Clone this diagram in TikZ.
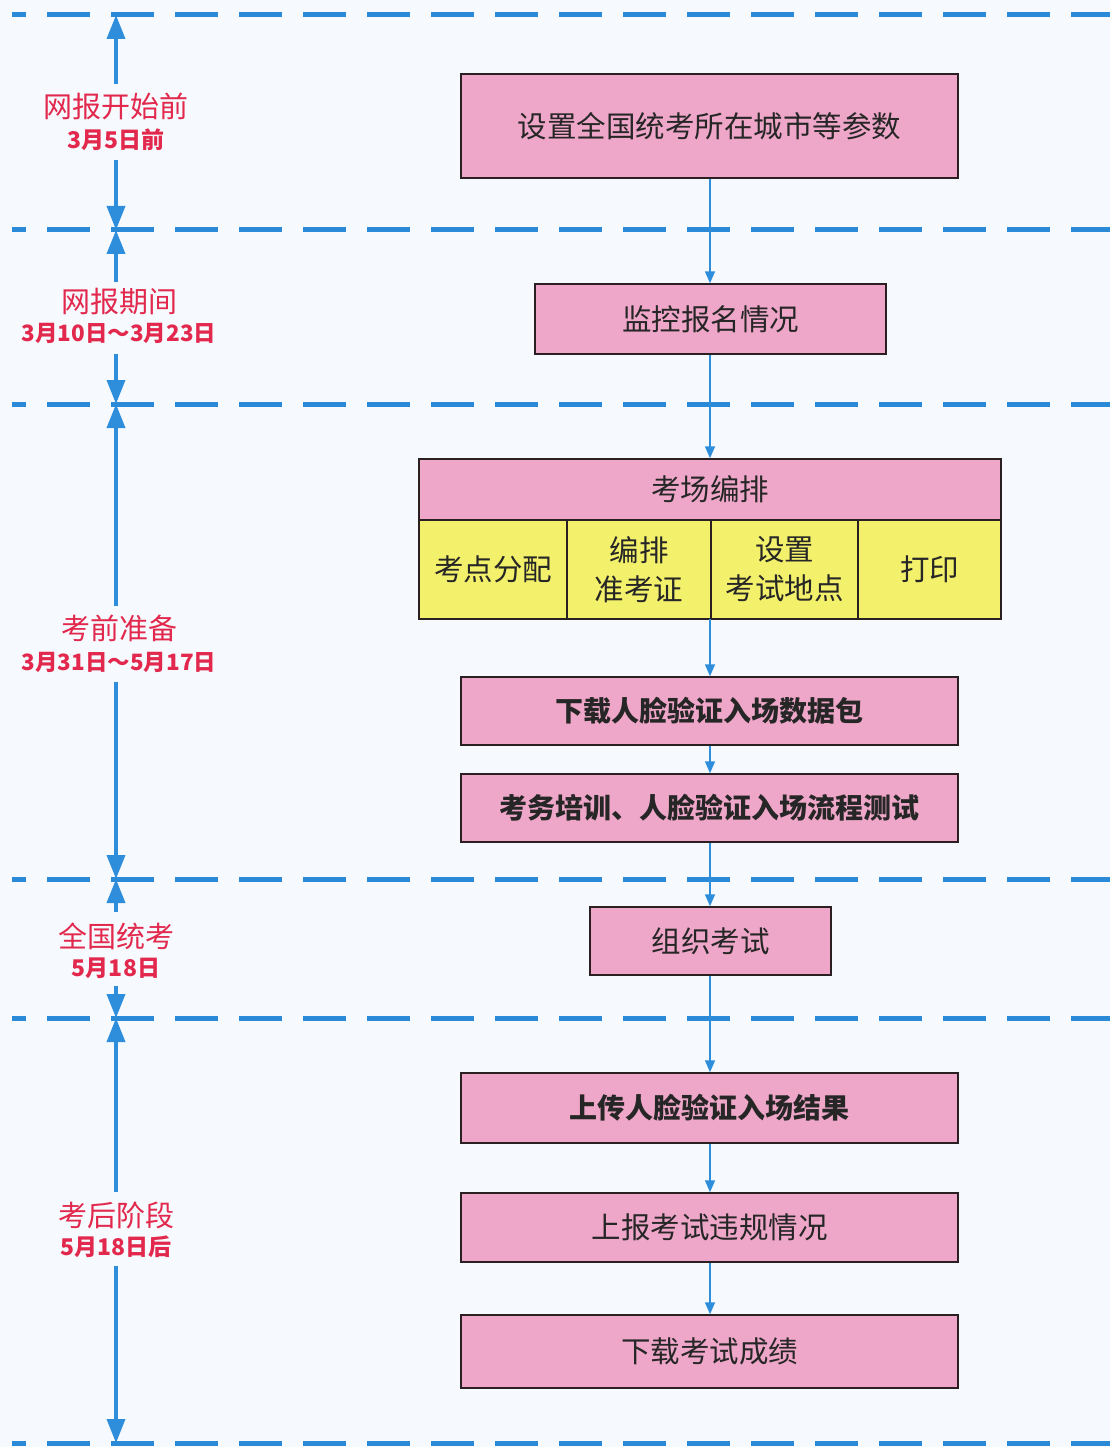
\documentclass[tikz,border=0pt]{standalone}
\usepackage{fontspec}
\setmainfont{Noto Sans CJK SC}
\usetikzlibrary{arrows.meta}
\definecolor{bgc}{HTML}{F6FAFE}
\definecolor{dashc}{HTML}{2B8AD8}
\definecolor{arrc}{HTML}{2E8EDC}
\definecolor{pinkc}{HTML}{EEA7C8}
\definecolor{yelc}{HTML}{F3F06C}
\definecolor{redc}{HTML}{E2284C}
\definecolor{edgec}{HTML}{2A2022}
\tikzset{
  sepline/.style={dashc, line width=5pt, dash pattern=on 43pt off 21pt, dash phase=29pt},
  timearrow/.style={arrc, line width=3.5pt, -{Triangle[width=18pt,length=24pt]}},
  flowarrow/.style={arrc, line width=1.6pt, -{Triangle[width=10pt,length=12pt]}},
  pbox/.style={draw=edgec, line width=1.5pt, fill=pinkc, inner sep=0pt, font=\fontsize{29.5}{34}\selectfont, text=black!85},
  bbox/.style={pbox, font=\fontsize{28}{34}\selectfont\bfseries},
  ycell/.style={draw=edgec, line width=1.5pt, fill=yelc, inner sep=0pt, align=center, font=\fontsize{29.5}{39}\selectfont, text=black!85},
  period/.style={align=center, inner sep=1pt, text=redc, font=\fontsize{29}{36}\selectfont}
}
\newcommand{\datel}[1]{{\fontsize{23}{26}\selectfont\bfseries #1}}
\begin{document}
\begin{tikzpicture}[x=1pt,y=-1pt]
\fill[bgc] (0,0) rectangle (1110,1447);
\useasboundingbox (0,0) rectangle (1110,1447);

% separator lines
\foreach \yy in {15,230,404,879,1018,1443}{
  \draw[sepline] (12,\yy) -- (1110,\yy);
}

% coordinates on separators
\coordinate (s0) at (116,15);
\coordinate (s1) at (116,230);
\coordinate (s2) at (116,404);
\coordinate (s3) at (116,879);
\coordinate (s4) at (116,1018);
\coordinate (s5) at (116,1443);

% period labels
\node[period] (p1) at (116,122) {网报开始前\\[-5pt]\datel{3月5日前}};
\node[period] (p2) at (119,316) {网报期间\\[-7pt]{\fontsize{22.5}{26}\selectfont\bfseries 3月10日～3月23日}};
\node[period] (p3) at (119,644) {考前准备\\[-5pt]{\fontsize{22.5}{26}\selectfont\bfseries 3月31日～5月17日}};
\node[period] (p4) at (116,951) {全国统考\\[-7pt]\datel{5月18日}};
\node[period] (p5) at (116,1230) {考后阶段\\[-7pt]\datel{5月18日后}};

% time arrows
\draw[timearrow] (116,84) -- (s0);
\draw[timearrow] (116,160) -- (s1);
\draw[timearrow] (116,282) -- (s1);
\draw[timearrow] (116,354) -- (s2);
\draw[timearrow] (116,606) -- (s2);
\draw[timearrow] (116,682) -- (s3);
\draw[timearrow] (116,912) -- (s3);
\draw[timearrow] (116,986) -- (s4);
\draw[timearrow] (116,1192) -- (s4);
\draw[timearrow] (116,1266) -- (s5);

% flow boxes
\node[pbox, minimum width=497pt, minimum height=104pt] (b1) at (709.5,126) {设置全国统考所在城市等参数};
\node[pbox, minimum width=351pt, minimum height=70pt] (b2) at (710.5,319) {监控报名情况};
\node[pbox, minimum width=582pt, minimum height=61pt] (b3) at (710,489.5) {考场编排};
\node[ycell, minimum width=148pt, minimum height=99pt] (c1) at (493,569.5) {考点分配};
\node[ycell, minimum width=144pt, minimum height=99pt] (c2) at (639,569.5) {编排\\准考证};
\node[ycell, minimum width=147pt, minimum height=99pt] (c3) at (784.5,569.5) {设置\\考试地点};
\node[ycell, minimum width=143pt, minimum height=99pt] (c4) at (929.5,569.5) {打印};
\coordinate (b3s) at (710,619);
\node[bbox, minimum width=497pt, minimum height=68pt] (b4) at (709.5,711) {下载人脸验证入场数据包};
\node[bbox, minimum width=497pt, minimum height=68pt] (b5) at (709.5,808) {考务培训、人脸验证入场流程测试};
\node[pbox, minimum width=241pt, minimum height=68pt] (b6) at (710.5,941) {组织考试};
\node[bbox, minimum width=497pt, minimum height=70pt] (b7) at (709.5,1108) {上传人脸验证入场结果};
\node[pbox, minimum width=497pt, minimum height=69pt] (b8) at (709.5,1227.5) {上报考试违规情况};
\node[pbox, minimum width=497pt, minimum height=73pt] (b9) at (709.5,1351.5) {下载考试成绩};

% flow arrows
\draw[flowarrow] (b1.south -| 710,0) -- (b2.north -| 710,0);
\draw[flowarrow] (b2.south -| 710,0) -- (b3.north -| 710,0);
\draw[flowarrow] (b3s) -- (b4.north -| 710,0);
\draw[flowarrow] (b4.south -| 710,0) -- (b5.north -| 710,0);
\draw[flowarrow] (b5.south -| 710,0) -- (b6.north -| 710,0);
\draw[flowarrow] (b6.south -| 710,0) -- (b7.north -| 710,0);
\draw[flowarrow] (b7.south -| 710,0) -- (b8.north -| 710,0);
\draw[flowarrow] (b8.south -| 710,0) -- (b9.north -| 710,0);
\end{tikzpicture}
\end{document}
